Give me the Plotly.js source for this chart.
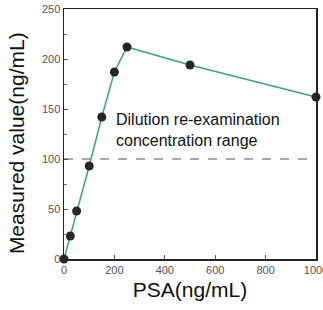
<!DOCTYPE html>
<html>
<head>
<meta charset="utf-8">
<script src="https://cdn.plot.ly/plotly-3.0.1.min.js"></script>
<style>html,body{margin:0;padding:0;background:#fff;}#chart{width:323px;height:310px;}</style>
</head>
<body>
<div id="chart"></div>
<script>
var psa = [0, 25, 50, 100, 150, 200, 250, 500, 1000];
var measured = [0, 23, 48, 93, 142, 187, 212, 194, 162];
var threshold = 100;
var xTicks = [0, 200, 400, 600, 800, 1000];
var yTicks = [0, 50, 100, 150, 200, 250];
var noteText = "Dilution re-examination<br>concentration range";
var xTitle = 'PSA(ng/mL)';
var yTitle = 'Measured value(ng/mL)';

var trace = {
  x: psa, y: measured, type: 'scatter', mode: 'lines+markers',
  line: {color: '#3f9f86', width: 1.5},
  marker: {color: '#262626', size: 9},
  cliponaxis: false, showlegend: false
};

var layout = {
  width: 323, height: 310,
  margin: {l: 64, r: 7, t: 9, b: 51},
  paper_bgcolor: '#fff', plot_bgcolor: '#fff',
  font: {family: 'Liberation Sans, Arial, sans-serif', color: '#111'},
  xaxis: {
    range: [0, 1000], tickvals: xTicks, ticktext: xTicks.map(String),
    ticks: 'inside', ticklen: 4, tickcolor: '#555', tickwidth: 1,
    ticklabeloverflow: 'allow',
    showline: true, linecolor: '#222', linewidth: 1.5, mirror: true,
    showgrid: false, zeroline: false,
    tickfont: {size: 11, color: '#555'},
    title: {text: xTitle, font: {size: 21, color: '#111'}, standoff: 7}
  },
  yaxis: {
    range: [0, 250], tickvals: yTicks, ticktext: yTicks.map(String),
    ticks: 'inside', ticklen: 4, tickcolor: '#555', tickwidth: 1,
    minor: {dtick: 25, ticks: 'inside', ticklen: 3, tickcolor: '#777'},
    showline: true, linecolor: '#222', linewidth: 1.5, mirror: true,
    showgrid: false, zeroline: false,
    tickfont: {size: 11, color: '#555'}
  },
  shapes: [{
    type: 'line', xref: 'paper', x0: 0, x1: 1, yref: 'y', y0: threshold, y1: threshold,
    line: {color: '#555', width: 1, dash: 'dash'}, layer: 'below'
  }],
  annotations: [{
    x: 200, y: 129, xref: 'x', yref: 'y', xanchor: 'left', yanchor: 'middle',
    text: noteText, showarrow: false, align: 'left',
    font: {size: 16, color: '#111'}
  }, {
    x: -0.19, y: 0.464, xref: 'paper', yref: 'paper', xanchor: 'center', yanchor: 'middle',
    text: yTitle, textangle: -90, showarrow: false,
    font: {size: 21, color: '#111'}
  }]
};

Plotly.newPlot('chart', [trace], layout, {displayModeBar: false, staticPlot: true});
</script>
</body>
</html>
